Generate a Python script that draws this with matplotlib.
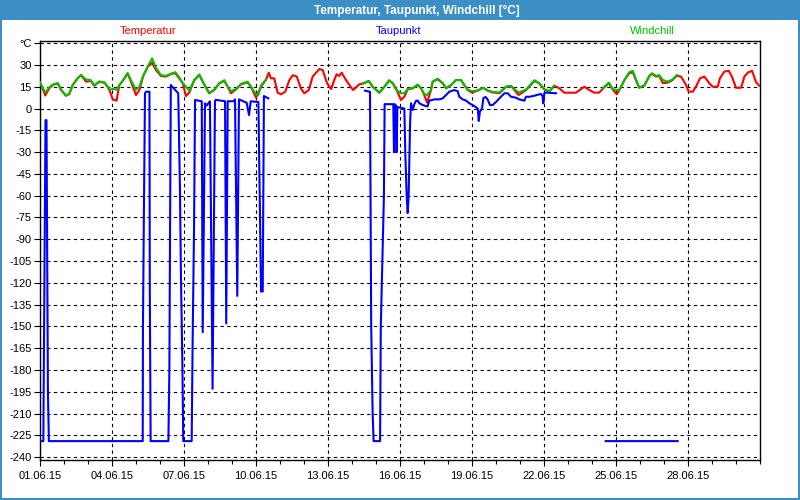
import numpy as np
import matplotlib
matplotlib.use("Agg")
import matplotlib.pyplot as plt
from matplotlib.patches import Rectangle

plt.rcParams['font.family'] = ['Liberation Sans', 'DejaVu Sans']

nan = np.nan

# ---------------- data (x in days since 01.06.15) ----------------
temp_day = [0, 0.22, 0.39, 0.53, 0.74, 0.88, 1.08, 1.22, 1.36, 1.57, 1.71, 1.92, 2.12, 2.26, 2.47,
            2.68, 2.82, 2.92, 3.03, 3.19, 3.30, 3.47, 3.65, 3.79, 4.00, 4.14, 4.30, 4.49, 4.67, 4.83,
            5.04, 5.25, 5.46, 5.64, 5.80, 5.95, 6.08, 6.22, 6.43, 6.64, 6.78, 7.05, 7.26, 7.47, 7.68,
            7.82, 7.96, 8.17, 8.38, 8.65, 8.79, 9.00, 9.21, 9.42, 9.53, 9.62, 9.76, 9.90, 10.04, 10.22,
            10.39, 10.53, 10.70, 10.87, 11.01, 11.20, 11.36, 11.64, 11.78, 11.96, 12.13, 12.26, 12.36,
            12.47, 12.57, 12.75, 12.89, 13.05, 13.30, 13.51, 13.70, 13.86, 14.14, 14.35, 14.55, 14.70,
            14.83, 15.04, 15.18, 15.32, 15.53, 15.74, 15.88, 16.01, 16.13, 16.29, 16.36, 16.57, 16.78,
            16.92, 17.13, 17.33, 17.54, 17.68, 17.82, 18.00, 18.24, 18.47, 18.65, 18.86, 19.14, 19.42,
            19.63, 19.94, 20.25, 20.60, 20.80, 21.01, 21.22, 21.43, 21.64, 21.85, 22.33, 22.68, 22.89,
            23.10, 23.30, 23.51, 23.70, 23.86, 24.03, 24.14, 24.35, 24.55, 24.70, 24.83, 24.97, 25.18,
            25.39, 25.50, 25.67, 25.80, 25.95, 26.15, 26.36, 26.53, 26.71, 26.92, 27.03, 27.20, 27.33,
            27.50, 27.68, 27.89, 28.03, 28.24, 28.33, 28.51, 28.70, 28.83, 29.00, 29.21, 29.35, 29.49,
            29.67, 29.83, 29.97]
temp_val = [18, 9, 14, 16.2, 17.3, 12.7, 8.8, 10, 16.2, 20.8, 23, 18.5, 19, 15.7, 18.5,
            17.8, 15, 11.6, 6.3, 5.4, 16, 19.6, 24.3, 18.5, 9.3, 12.7, 22.4, 28.8, 31.5, 26.5,
            22.4, 22, 23.8, 24.3, 20.8, 17.4, 8.6, 11, 19.6, 23, 18.5, 10.5, 12.7, 17.4, 19,
            15, 10.5, 13.2, 16.7, 18, 15, 7.5, 15, 20, 24.7, 20.8, 20.8, 10.9, 9.8, 11.6,
            19.6, 23, 22, 13.9, 10.5, 12.7, 22, 27.2, 26.5, 17.4, 13.4, 19.6, 23.6,
            22.4, 24.7, 19.6, 16.2, 12.7, 16.7, 17.4, 19, 15, 10.9, 15, 19.2, 17.4,
            13.9, 5.9, 8.1, 13.2, 13.9, 16.2, 13.9, 9.3, 4, 12.7, 18.5, 20.1, 17.4,
            13.9, 16.2, 19.6, 19.6, 16.2, 12.7, 11, 12.3, 14.3, 12.3, 11.1, 10.5, 15,
            15.5, 9.3, 12.7, 19, 17.4, 13.2, 11.6, 15.7, 13.9, 10.9, 10.9, 15, 12.7,
            10.9, 11, 14.6, 17.4, 13.2, 9.8, 12.7, 19.6, 24.3, 24.9, 19.6, 14.3, 15.7,
            22.4, 23.8, 22, 22.4, 17.5, 17.8, 19.6, 22.6, 22, 16.2, 11.6, 11.6, 15,
            20.8, 22, 17.4, 15, 15, 20.8, 25.4, 26, 22, 14.3, 14.3, 22, 24.7,
            26, 18.3, 15.7]

dew_day = [0, 0.14, 0.15, 0.23, 0.27, 0.33, 0.37,
           4.28, 4.29, 4.33, 4.375, 4.42, 4.56, 4.575, 4.61,
           5.35, 5.39, 5.42, 5.45, 5.625, 5.76, 5.83, 5.875, 5.93, 5.97,
           6.32, 6.36, 6.42, 6.46, 6.74, 6.78, 6.875, 6.94, 7.08, 7.19, 7.29, 7.32, 7.71, 7.76,
           7.82, 8.06, 8.125, 8.22, 8.29, 8.40, 8.61, 8.71, 8.78, 9.10, 9.21, 9.28, 9.33, 9.51,
           nan,
           13.54, 13.75, 13.80, 13.86, 13.90, 14.17, 14.20, 14.33, 14.36, 14.50, 14.72, 14.75,
           14.78, 14.84, 14.86, 14.89, 15.18, 15.22, 15.278, 15.32, 15.36, 15.42, 15.458, 15.53,
           15.597, 15.67, 15.74, 15.81, 15.94, 16.08, 16.15, 16.22, 16.43, 16.64, 16.78, 16.92,
           17.056, 17.26, 17.40, 17.47, 17.61, 17.75, 17.89, 18.097, 18.24, 18.28, 18.33, 18.42,
           18.47, 18.56, 18.65, 18.75, 18.86, 19.0, 19.14, 19.25, 19.35, 19.49, 19.625, 19.83,
           19.97, 20.18, 20.25, 20.39, 20.6, 20.74, 20.875, 20.94, 20.97, 21.01, 21.08, 21.5,
           nan,
           23.57, 26.57]
dew_val = [-229, -229, -200, -8, -8, -195, -229,
           -229, -150, -70, 10.5, 11.6, 11.6, -125, -229,
           -229, -180, -80, 16.2, 13, 10.5, -54, -118, -173, -229,
           -229, -160, -80, 5.9, 5, -154, 3.6, 2, 5, -193, 5, 6, 5, -148,
           5, 5, 6.3, -129, 6.3, 5.5, 4, -4.5, 5, 4.5, -126, -126, 8.6, 7,
           nan,
           12.3, 11.5, -150, -210, -229, -229, -150, -60, 3, 3, 3, -30,
           3, 2, -30, 1, 0, -30, -60, -72, -60, -10, 3.6, -1,
           3, 5.4, 5.4, 3.6, 2.5, 1.7, 1.5, 5.4, 6.3, 6.3, 7, 9.3,
           11.6, 12.7, 12, 8.1, 6.3, 5.5, 3.6, 1.7, 0, -8.6, -2, 0,
           7, 8, 6.3, 2.4, 2.4, 4.5, 7, 8.8, 10.5, 10.5, 8.1, 7.5,
           6.3, 5.4, 8.1, 8.1, 8.8, 9.5, 10, 8.5, 3.6, 10.5, 11, 10.5,
           nan,
           -229, -229]

chill_day = [0, 0.22, 0.39, 0.53, 0.74, 0.88, 1.08, 1.22, 1.36, 1.57, 1.71, 1.92, 2.12, 2.26,
             2.47, 2.68, 2.82, 2.92, 3.03, 3.19, 3.30, 3.47, 3.65, 3.79, 4.00, 4.14, 4.30, 4.49,
             4.67, 4.83, 5.04, 5.25, 5.46, 5.64, 5.80, 5.95, 6.08, 6.22, 6.43, 6.64, 6.78, 7.05,
             7.26, 7.47, 7.68, 7.82, 7.96, 8.17, 8.38, 8.65, 8.79, 9.00, 9.10, 9.21, 9.42,
             nan,
             13.45, 13.70, 13.86, 14.14, 14.35, 14.55, 14.70, 14.83, 15.04, 15.18, 15.32, 15.53,
             15.74, 15.88, 16.01, 16.13, 16.29, 16.36, 16.57, 16.78, 16.92, 17.13, 17.33, 17.54,
             17.68, 17.82, 18.00, 18.24, 18.47, 18.65, 18.86, 19.14, 19.42, 19.63, 19.94, 20.25,
             20.60, 20.80, 21.01, 21.22, 21.43,
             nan,
             23.45, 23.70, 23.86, 24.03, 24.14, 24.35, 24.55, 24.70, 24.83, 24.97, 25.18, 25.39,
             25.50, 25.67, 25.80, 25.95, 26.15, 26.36, 26.53]
chill_val = [18, 11, 14.5, 16.5, 17.5, 13, 9, 10, 16, 21, 23, 20, 19.5, 16,
             18.5, 18, 15, 13, 13.5, 13, 16, 19.6, 24.3, 19.5, 13, 15, 22.4, 28.8,
             34.5, 28, 23, 22.5, 24, 25, 21.5, 17.5, 15, 12.3, 19.6, 23.5, 18.5, 10.5,
             13, 17.4, 19.5, 15, 12, 13.5, 17, 18.5, 15, 10, 9.4, 16, 20,
             nan,
             17.4, 19, 15, 11, 15, 19.5, 17.4, 13, 10.5, 10.5, 13.5, 14,
             16.5, 14, 10, 9.3, 12.7, 18.5, 20.5, 17.5, 14, 16.2, 19.6, 19.6,
             16.2, 13, 12, 12.5, 14.3, 12.5, 11.5, 11, 15, 15.5, 11, 13,
             19.5, 17.4, 13.5, 12, 15.7,
             nan,
             14, 17.8, 13.5, 12.7, 12.7, 19.6, 25, 26, 20, 14.5, 16, 22.4,
             24.3, 22.5, 23, 19.6, 18.5, 20, 23]

x_tick_days = [0, 3, 6, 9, 12, 15, 18, 21, 24, 27]
x_tick_labels = ["01.06.15", "04.06.15", "07.06.15", "10.06.15", "13.06.15",
                 "16.06.15", "19.06.15", "22.06.15", "25.06.15", "28.06.15"]
y_tick_vals = list(range(-240, 46, 15))
y_tick_labels = [str(v) for v in range(-240, 31, 15)] + ["°C"]

series_names = ["Temperatur", "Taupunkt", "Windchill"]
series_colors = ["#ff0000", "#0000ff", "#00c000"]
title = "Temperatur, Taupunkt, Windchill [°C]"

# ---------------- figure ----------------
W, H = 800, 500
fig = plt.figure(figsize=(8, 5), dpi=100, facecolor="white")

def fx(x):
    return x / W

def fy(y):
    return 1 - y / H

frame_col = "#3c8fc5"
fig.patches.append(Rectangle((0, fy(20)), 1, 20 / H, transform=fig.transFigure,
                             facecolor=frame_col, edgecolor="none", zorder=0))
fig.patches.append(Rectangle((0, 0), 1.5 / W, 1, transform=fig.transFigure,
                             facecolor=frame_col, edgecolor="none", zorder=0))
fig.patches.append(Rectangle((1 - 2.5 / W, 0), 2.5 / W, 1, transform=fig.transFigure,
                             facecolor=frame_col, edgecolor="none", zorder=0))
fig.patches.append(Rectangle((0, 0), 1, 2.5 / H, transform=fig.transFigure,
                             facecolor=frame_col, edgecolor="none", zorder=0))

fig.text(fx(417), fy(10.5), title, color="white", fontweight="bold", fontsize=8.5,
         ha="center", va="center")

legend_x = [148, 399, 652]
for name, col, lx in zip(series_names, series_colors, legend_x):
    fig.text(fx(lx), fy(31.5), name, color=col, fontsize=8, ha="center", va="center")

ax = fig.add_axes([fx(40), fy(460), (760 - 40) / W, (460 - 41) / H])
ax.set_facecolor("white")

ax.plot(temp_day, temp_val, color=series_colors[0], lw=1.5, zorder=3)
ax.plot(dew_day, dew_val, color=series_colors[1], lw=1.5, zorder=4)
ax.plot(chill_day, chill_val, color=series_colors[2], lw=1.5, zorder=5)

ax.set_xlim(0, 30)
ax.set_ylim(-242, 46.5)
ax.set_xticks(x_tick_days)
ax.set_xticklabels(x_tick_labels)
ax.set_xticks(range(0, 31), minor=True)
ax.set_yticks(y_tick_vals)
ax.set_yticklabels(y_tick_labels)

ax.grid(True, which="major", color="black", linestyle=(0, (3, 3)), linewidth=0.8, zorder=1)
ax.set_axisbelow(True)
for s in ax.spines.values():
    s.set_color("black")
    s.set_linewidth(1.0)

ax.tick_params(axis="both", which="both", direction="out", colors="black",
               labelsize=8, width=0.8)
ax.tick_params(axis="x", which="major", length=4, pad=4)
ax.tick_params(axis="x", which="minor", length=3)
ax.tick_params(axis="y", which="major", length=4, pad=2)

fig.savefig("out.png", dpi=100, facecolor="white")
